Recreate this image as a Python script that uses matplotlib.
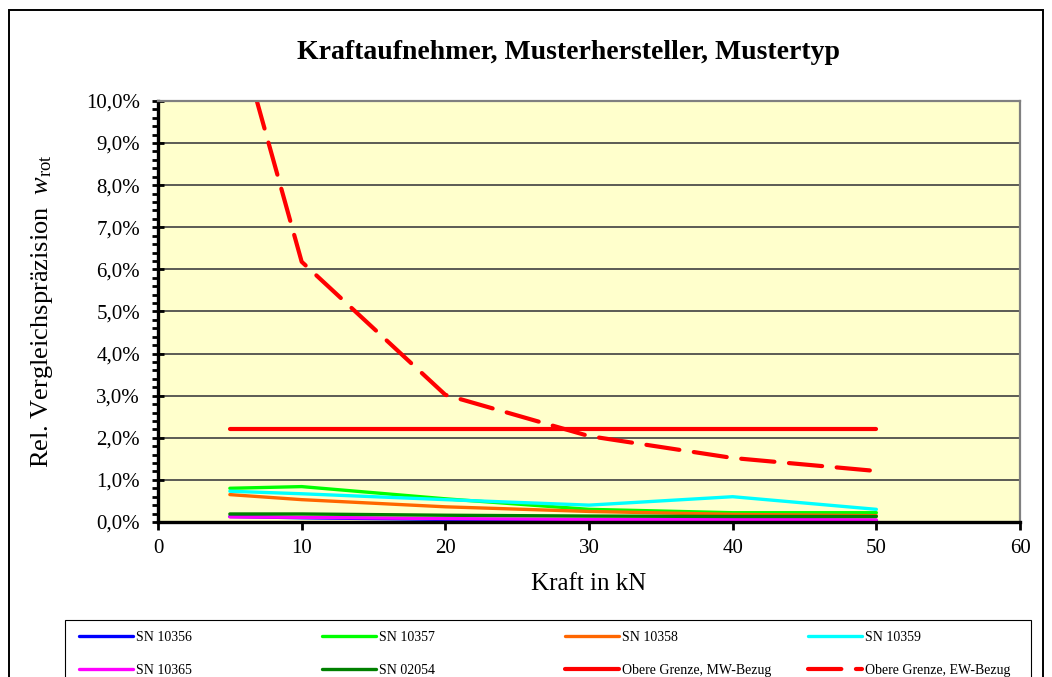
import numpy as np
import matplotlib
matplotlib.use('Agg')
import matplotlib.pyplot as plt
from matplotlib.patches import Rectangle
from matplotlib.ticker import FuncFormatter, MultipleLocator

plt.rcParams['font.family'] = ['Liberation Serif', 'DejaVu Serif']
plt.rcParams['mathtext.fontset'] = 'custom'
plt.rcParams['mathtext.rm'] = 'Liberation Serif'
plt.rcParams['mathtext.it'] = 'Liberation Serif:italic'

# Kraftstufen in kN
kraft = [5, 10, 20, 30, 40, 50]

# rel. Vergleichspraezision in %
sn_10356 = [0.13, 0.10, 0.06, 0.04, 0.03, 0.03]
sn_10357 = [0.80, 0.84, 0.55, 0.30, 0.22, 0.22]
sn_10358 = [0.65, 0.53, 0.36, 0.25, 0.18, 0.15]
sn_10359 = [0.73, 0.67, 0.53, 0.40, 0.60, 0.30]
sn_10365 = [0.12, 0.11, 0.08, 0.06, 0.06, 0.05]
sn_02054 = [0.19, 0.19, 0.16, 0.14, 0.13, 0.13]
grenze_mw = [2.2, 2.2, 2.2, 2.2, 2.2, 2.2]
grenze_ew = [12.3, 6.18, 3.02, 2.04, 1.52, 1.21]

series = [
    ('SN 10356', sn_10356, '#0000FF', '-'),
    ('SN 10357', sn_10357, '#00FF00', '-'),
    ('SN 10358', sn_10358, '#FF6600', '-'),
    ('SN 10359', sn_10359, '#00FFFF', '-'),
    ('SN 10365', sn_10365, '#FF00FF', '-'),
    ('SN 02054', sn_02054, '#008000', '-'),
    ('Obere Grenze, MW-Bezug', grenze_mw, '#FF0000', '-'),
    ('Obere Grenze, EW-Bezug', grenze_ew, '#FF0000', '--'),
]

fig = plt.figure(figsize=(10.52, 6.77), dpi=100)
ax = fig.add_axes([0.1502, 0.2290, 0.8194, 0.6219])
ax.set_facecolor('#FFFFCC')

handles = []
for name, values, color, style in series:
    lw = 3.0 if color == '#FF0000' else 2.4
    line, = ax.plot(kraft, values, color=color, linestyle=style, linewidth=lw,
                    label=name, solid_capstyle='round', dash_capstyle='round')
    if style == '--':
        line.set_dashes((8, 3.5))
    handles.append(line)

ax.set_xlim(0, 60)
ax.set_ylim(0, 10)
ax.xaxis.set_major_locator(MultipleLocator(10))
ax.yaxis.set_major_locator(MultipleLocator(1))
ax.yaxis.set_minor_locator(MultipleLocator(0.2))
ax.yaxis.set_major_formatter(FuncFormatter(lambda v, p: ('%.1f%%' % v).replace('.', ',')))

ax.grid(axis='y', which='major', color='#404040', linewidth=1.2)
ax.set_axisbelow(True)

for side in ['left', 'bottom']:
    ax.spines[side].set_color('black')
    ax.spines[side].set_linewidth(2.4)
for side in ['top', 'right']:
    ax.spines[side].set_color('#808080')
    ax.spines[side].set_linewidth(1.6)

ax.tick_params(axis='y', which='major', direction='inout', length=8, width=2, labelsize=15, pad=9)
ax.tick_params(axis='y', which='minor', direction='out', length=4, width=2)
ax.tick_params(axis='x', which='major', direction='out', length=6, width=2, labelsize=15, pad=6)

ax.set_xlabel('Kraft in kN', fontsize=18, labelpad=11)
ax.set_ylabel(r'Rel. Vergleichspräzision  $w_{\mathrm{rot}}$', fontsize=19)
ax.yaxis.set_label_coords(-0.119, 0.5)

fig.text(0.540, 0.923, 'Kraftaufnehmer, Musterhersteller, Mustertyp',
         ha='center', va='center', fontsize=20, fontweight='bold')

# Legende: Rahmen plus vier gleich breite Spalten, zeilenweise gefuellt
ncol = 4
leg_x0, leg_x1, leg_top = 0.0618, 0.980, 0.0842
fig.patches.append(Rectangle((leg_x0, -0.05), leg_x1 - leg_x0, leg_top + 0.05,
                             transform=fig.transFigure, fill=False,
                             edgecolor='black', linewidth=0.8))
col_w = 243 / 1052
for c in range(ncol):
    idx = [c, c + ncol]
    lg = fig.legend([handles[i] for i in idx], [series[i][0] for i in idx],
                    loc='upper left', bbox_to_anchor=(0.0656 + c * col_w, leg_top - 0.002),
                    ncol=1, fontsize=10, handlelength=3.9, handletextpad=0.2,
                    frameon=False, borderaxespad=0, labelspacing=1.4, borderpad=0.7)

# Rahmen um das Diagramm
fig.patches.append(Rectangle((0.0086, -0.1), 0.9829, 1.0852, transform=fig.transFigure,
                             fill=False, edgecolor='black', linewidth=1.4))

fig.savefig('out.png', dpi=100)
